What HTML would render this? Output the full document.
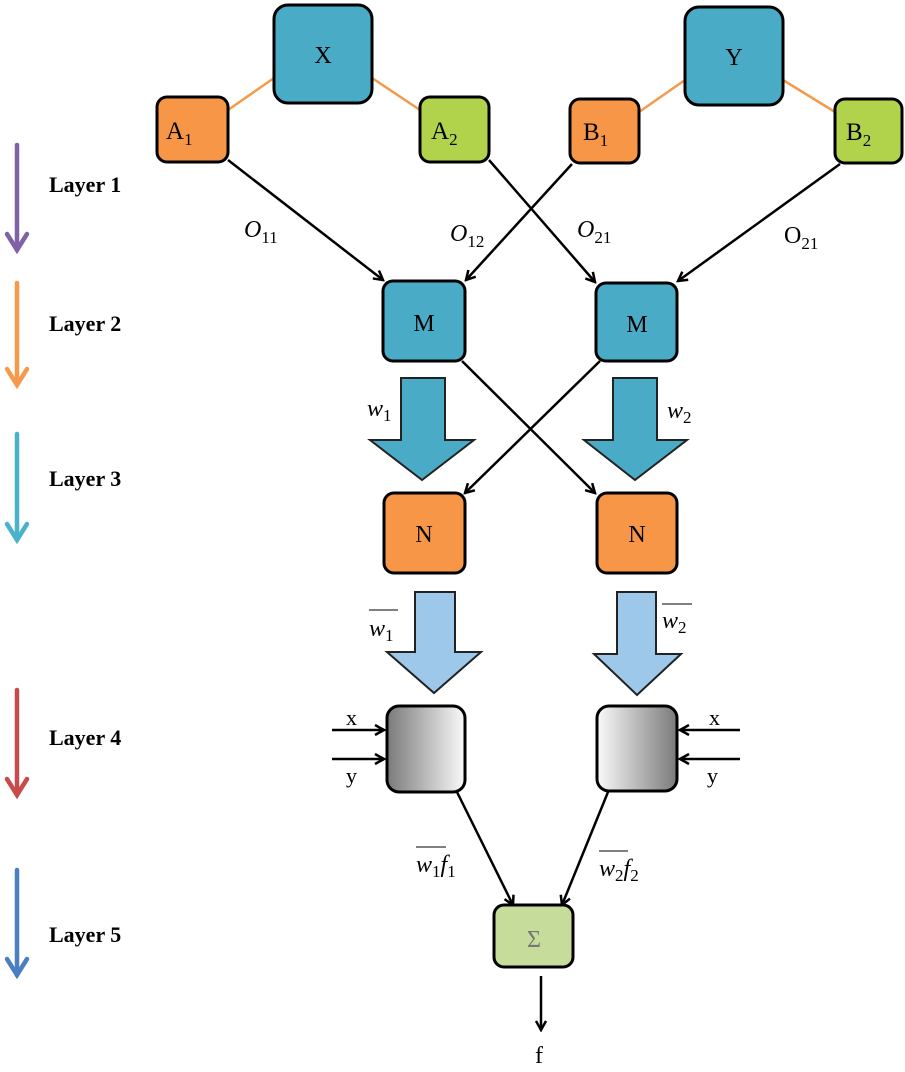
<!DOCTYPE html>
<html><head><meta charset="utf-8"><style>
html,body{margin:0;padding:0;background:#fff;}
svg{display:block;}
text{font-family:"Liberation Serif",serif;}
.lay{font-weight:bold;font-size:22px;}
.nd{stroke:#000;stroke-width:3;}
.ln{stroke:#000;stroke-width:2.5;fill:none;}
.lbl{font-size:24px;font-style:italic;}
.nl{font-size:24px;text-anchor:middle;}
</style></head><body>
<svg width="905" height="1072" viewBox="0 0 905 1072" xmlns="http://www.w3.org/2000/svg">
<defs>
<marker id="ah" markerWidth="12" markerHeight="12" refX="10" refY="6" orient="auto" markerUnits="userSpaceOnUse">
<path d="M1,1 L10,6 L1,11" fill="none" stroke="#000" stroke-width="2.5"/>
</marker>
<linearGradient id="gL" x1="0" x2="1" y1="0" y2="0"><stop offset="0" stop-color="#7a7a7a"/><stop offset="1" stop-color="#fafafa"/></linearGradient>
<linearGradient id="gR" x1="0" x2="1" y1="0" y2="0"><stop offset="0" stop-color="#fafafa"/><stop offset="1" stop-color="#7a7a7a"/></linearGradient>
</defs>
<g stroke-width="4.5" fill="none" stroke-linecap="round">
<g stroke="#7f62a6"><line x1="17" y1="145" x2="17" y2="250"/><path d="M7,234 L17,250 L27,234"/></g>
<g stroke="#f59a4a"><line x1="17" y1="283" x2="17" y2="385"/><path d="M7,369 L17,385 L27,369"/></g>
<g stroke="#4ab3cc"><line x1="17" y1="434" x2="17" y2="540"/><path d="M7,524 L17,540 L27,524"/></g>
<g stroke="#c84b4b"><line x1="17" y1="690" x2="17" y2="795"/><path d="M7,779 L17,795 L27,779"/></g>
<g stroke="#4a7fc1"><line x1="17" y1="870" x2="17" y2="975"/><path d="M7,959 L17,975 L27,959"/></g>
</g>
<text class="lay" x="49" y="192">Layer 1</text>
<text class="lay" x="49" y="331">Layer 2</text>
<text class="lay" x="49" y="486">Layer 3</text>
<text class="lay" x="49" y="745">Layer 4</text>
<text class="lay" x="49" y="942">Layer 5</text>
<g stroke="#f59a4a" stroke-width="2.5">
<line x1="228" y1="110" x2="274" y2="78"/><line x1="372" y1="78" x2="420" y2="110"/>
<line x1="639" y1="112" x2="685" y2="80"/><line x1="783" y1="80" x2="835" y2="112"/>
</g>
<line class="ln" x1="228" y1="160" x2="383" y2="280" marker-end="url(#ah)"/>
<line class="ln" x1="489" y1="160" x2="595" y2="282" marker-end="url(#ah)"/>
<line class="ln" x1="572" y1="164" x2="466" y2="280" marker-end="url(#ah)"/>
<line class="ln" x1="840" y1="164" x2="678" y2="281" marker-end="url(#ah)"/>
<line class="ln" x1="462" y1="361" x2="595" y2="493" marker-end="url(#ah)"/>
<line class="ln" x1="600" y1="361" x2="465" y2="493" marker-end="url(#ah)"/>
<line class="ln" x1="456" y1="790" x2="513" y2="905" marker-end="url(#ah)"/>
<line class="ln" x1="608" y1="792" x2="562" y2="905" marker-end="url(#ah)"/>
<line class="ln" x1="541" y1="976" x2="541" y2="1030" marker-end="url(#ah)"/>
<line class="ln" x1="332" y1="730" x2="384" y2="730" marker-end="url(#ah)"/>
<line class="ln" x1="332" y1="759" x2="384" y2="759" marker-end="url(#ah)"/>
<line class="ln" x1="740" y1="730" x2="680" y2="730" marker-end="url(#ah)"/>
<line class="ln" x1="740" y1="759" x2="680" y2="759" marker-end="url(#ah)"/>
<rect class="nd" x="274" y="5" width="98" height="98" rx="14" fill="#4aabc6"/>
<rect class="nd" x="685" y="7" width="98" height="98" rx="14" fill="#4aabc6"/>
<rect class="nd" x="157" y="97" width="71" height="65" rx="10" fill="#f79646"/>
<rect class="nd" x="420" y="97" width="69" height="65" rx="10" fill="#b1d34c"/>
<rect class="nd" x="570" y="99" width="69" height="64" rx="10" fill="#f79646"/>
<rect class="nd" x="835" y="99" width="67" height="64" rx="10" fill="#b1d34c"/>
<rect class="nd" x="383" y="281" width="82" height="80" rx="10" fill="#4aabc6"/>
<rect class="nd" x="596" y="283" width="81" height="78" rx="10" fill="#4aabc6"/>
<rect class="nd" x="384" y="493" width="81" height="80" rx="10" fill="#f79646"/>
<rect class="nd" x="597" y="493" width="80" height="80" rx="10" fill="#f79646"/>
<rect class="nd" x="387" y="706" width="78" height="86" rx="12" fill="url(#gL)"/>
<rect class="nd" x="597" y="706" width="80" height="85" rx="12" fill="url(#gR)"/>
<rect class="nd" x="494" y="905" width="79" height="62" rx="10" fill="#c5dc9a"/>
<g stroke="#222" stroke-width="2">
<path d="M401,378 L445,378 L445,440 L474,440 L422,480 L370,440 L401,440 Z" fill="#4aabc6"/>
<path d="M613,378 L657,378 L657,440 L687,440 L635,480 L584,440 L613,440 Z" fill="#4aabc6"/>
<path d="M415,592 L455,592 L455,652 L481,652 L434,693 L387,652 L415,652 Z" fill="#9dc8ea"/>
<path d="M617,592 L656,592 L656,654 L681,654 L637,695 L594,654 L617,654 Z" fill="#9dc8ea"/>
</g>
<text class="nl" x="323" y="63" font-size="27">X</text>
<text class="nl" x="734" y="65" font-size="27">Y</text>
<text x="166" y="139" font-size="25">A<tspan font-size="17" dy="6">1</tspan></text>
<text x="431" y="139" font-size="25">A<tspan font-size="17" dy="6">2</tspan></text>
<text x="583" y="140" font-size="25">B<tspan font-size="17" dy="6">1</tspan></text>
<text x="846" y="140" font-size="25">B<tspan font-size="17" dy="6">2</tspan></text>
<text class="nl" x="424" y="331" font-size="23">M</text>
<text class="nl" x="637" y="332" font-size="23">M</text>
<text class="nl" x="424" y="542" font-size="23">N</text>
<text class="nl" x="637" y="542" font-size="23">N</text>
<text class="nl" x="534" y="947" fill="#777" font-size="26">Σ</text>
<text x="535" y="1063" font-size="24">f</text>
<text x="346" y="725" font-size="22">x</text>
<text x="346" y="783" font-size="22">y</text>
<text x="709" y="725" font-size="22">x</text>
<text x="707" y="783" font-size="22">y</text>
<text class="lbl" x="244" y="237">O<tspan font-size="17" font-style="normal" dy="6">11</tspan></text>
<text class="lbl" x="450" y="241">O<tspan font-size="17" font-style="normal" dy="6">12</tspan></text>
<text class="lbl" x="577" y="237">O<tspan font-size="17" font-style="normal" dy="6">21</tspan></text>
<text x="784" y="243" font-size="24">O<tspan font-size="17" dy="6">21</tspan></text>
<text class="lbl" x="367" y="416">w<tspan font-size="17" font-style="normal" dy="5">1</tspan></text>
<text class="lbl" x="667" y="418">w<tspan font-size="17" font-style="normal" dy="5">2</tspan></text>
<text class="lbl" x="369" y="636">w<tspan font-size="17" font-style="normal" dy="5">1</tspan></text>
<line x1="369" y1="610" x2="398" y2="610" stroke="#000" stroke-width="1"/>
<text class="lbl" x="662" y="628">w<tspan font-size="17" font-style="normal" dy="5">2</tspan></text>
<line x1="662" y1="604" x2="692" y2="604" stroke="#000" stroke-width="1"/>
<text class="lbl" x="416" y="872">w<tspan font-size="17" font-style="normal" dy="5">1</tspan><tspan dy="-5">f</tspan><tspan font-size="17" font-style="normal" dy="5">1</tspan></text>
<line x1="416" y1="847" x2="446" y2="847" stroke="#000" stroke-width="1"/>
<text class="lbl" x="599" y="876">w<tspan font-size="17" font-style="normal" dy="5">2</tspan><tspan dy="-5">f</tspan><tspan font-size="17" font-style="normal" dy="5">2</tspan></text>
<line x1="599" y1="851" x2="628" y2="851" stroke="#000" stroke-width="1"/>
</svg>
</body></html>
